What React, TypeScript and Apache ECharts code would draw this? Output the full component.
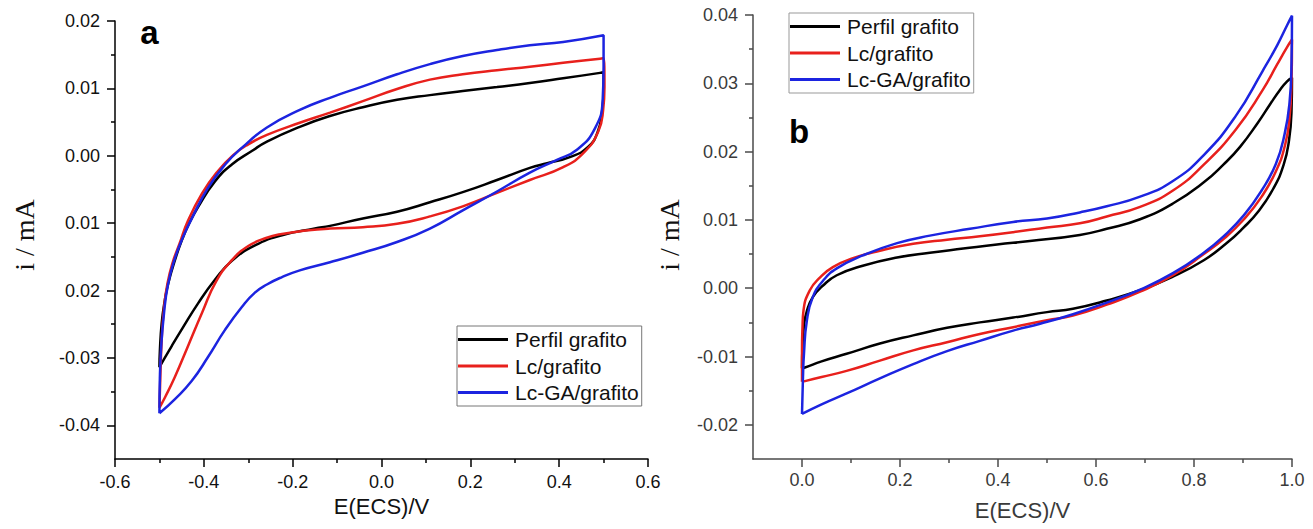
import React, { useEffect, useRef } from "react";
import * as echarts from "echarts";

type Pt = [number, number];

const seriesNames = ["Perfil grafito", "Lc/grafito", "Lc-GA/grafito"];
const seriesColors = ["#000000", "#e8201c", "#1c24e0"];

// Panel a: cyclic voltammograms, -0.5 V to 0.5 V (forward branch, then reverse)
const aPerfil: Pt[] = [
  [-0.5, -0.0314], [-0.499, -0.029], [-0.495, -0.0249], [-0.488, -0.0215], [-0.48, -0.0189],
  [-0.465, -0.0155], [-0.45, -0.0126], [-0.432, -0.0099], [-0.413, -0.0076], [-0.375, -0.0038],
  [-0.337, -0.0013], [-0.292, 0.0007], [-0.258, 0.0021], [-0.184, 0.0043], [-0.116, 0.0059],
  [-0.042, 0.0072], [0.035, 0.0083], [0.109, 0.009], [0.183, 0.0096], [0.26, 0.0102],
  [0.334, 0.0108], [0.409, 0.0115], [0.492, 0.0123], [0.5, 0.0124],
  [0.5, 0.01], [0.497, 0.0068], [0.487, 0.0036], [0.465, 0.0013], [0.424, -0.0002],
  [0.373, -0.0011], [0.334, -0.0018], [0.26, -0.0036], [0.183, -0.0054], [0.109, -0.0069],
  [0.035, -0.0083], [-0.042, -0.0093], [-0.116, -0.0104], [-0.15, -0.0108], [-0.224, -0.0118],
  [-0.285, -0.0133], [-0.337, -0.0156], [-0.375, -0.0184], [-0.413, -0.0219], [-0.449, -0.0257],
  [-0.472, -0.0282], [-0.488, -0.0300], [-0.5, -0.0314],
];

const aLc: Pt[] = [
  [-0.5, -0.0374], [-0.498, -0.033], [-0.495, -0.0275], [-0.49, -0.0228], [-0.482, -0.019],
  [-0.47, -0.0158], [-0.455, -0.0131], [-0.436, -0.0097], [-0.404, -0.0056], [-0.37, -0.0024],
  [-0.334, 0.0001], [-0.3, 0.0017], [-0.258, 0.0031], [-0.184, 0.0049], [-0.116, 0.0064],
  [-0.042, 0.0081], [0.035, 0.0099], [0.109, 0.0113], [0.183, 0.0121], [0.26, 0.0127],
  [0.334, 0.0132], [0.409, 0.0138], [0.492, 0.0144], [0.5, 0.0145],
  [0.502, 0.0102], [0.499, 0.0068], [0.488, 0.0036], [0.456, 0.0005], [0.409, -0.0017],
  [0.334, -0.0036], [0.26, -0.0055], [0.183, -0.0075], [0.109, -0.009], [0.035, -0.0101],
  [-0.042, -0.0106], [-0.116, -0.0108], [-0.17, -0.0111], [-0.224, -0.0116], [-0.26, -0.0122],
  [-0.3, -0.0134], [-0.337, -0.0155], [-0.372, -0.0186], [-0.404, -0.0233], [-0.436, -0.0283],
  [-0.465, -0.0328], [-0.487, -0.0358], [-0.5, -0.0374],
];

const aLcGA: Pt[] = [
  [-0.5, -0.0382], [-0.499, -0.033], [-0.496, -0.0283], [-0.49, -0.0236], [-0.481, -0.0192],
  [-0.465, -0.0152], [-0.447, -0.0121], [-0.427, -0.0093], [-0.391, -0.0048], [-0.352, -0.0013],
  [-0.314, 0.0012], [-0.258, 0.0042], [-0.184, 0.0068], [-0.116, 0.0086], [-0.042, 0.0103],
  [0.035, 0.0121], [0.109, 0.0136], [0.183, 0.0148], [0.26, 0.0157], [0.334, 0.0164],
  [0.409, 0.0169], [0.5, 0.0179],
  [0.5, 0.0132], [0.498, 0.0083], [0.48, 0.004], [0.44, 0.0009], [0.395, -0.0006],
  [0.334, -0.0025], [0.26, -0.0053], [0.183, -0.0081], [0.109, -0.0108], [0.035, -0.0128],
  [-0.042, -0.0144], [-0.116, -0.0158], [-0.184, -0.0170], [-0.224, -0.0180], [-0.258, -0.0191],
  [-0.285, -0.0203], [-0.314, -0.0224], [-0.352, -0.0258], [-0.391, -0.0299], [-0.427, -0.0334],
  [-0.465, -0.0361], [-0.5, -0.0382],
];

// Panel b: cyclic voltammograms, 0 V to 1.0 V
const bPerfil: Pt[] = [
  [0, -0.0117], [0.001, -0.0085], [0.004, -0.0055], [0.01, -0.0033], [0.022, -0.0013],
  [0.043, 0.0004], [0.071, 0.0019], [0.124, 0.0033], [0.194, 0.0045], [0.261, 0.0052],
  [0.329, 0.0058], [0.398, 0.0064], [0.465, 0.0069], [0.567, 0.0078], [0.622, 0.0087],
  [0.69, 0.0101], [0.757, 0.0124], [0.82, 0.0155], [0.86, 0.0181], [0.894, 0.0207],
  [0.93, 0.0242], [0.955, 0.0269], [0.975, 0.029], [0.99, 0.0303], [1.0, 0.0308],
  [0.999, 0.026], [0.994, 0.0217], [0.983, 0.0181], [0.962, 0.0146], [0.932, 0.0113],
  [0.9, 0.0088], [0.865, 0.0065], [0.82, 0.0041], [0.757, 0.0017], [0.69, -0.0003],
  [0.622, -0.0018], [0.553, -0.003], [0.5, -0.0035], [0.431, -0.0043], [0.363, -0.005],
  [0.296, -0.0058], [0.227, -0.0069], [0.159, -0.0081], [0.091, -0.0096], [0.04, -0.0107],
  [0.006, -0.0116], [0, -0.0117],
];

const bLc: Pt[] = [
  [0, -0.0137], [0, -0.009], [0.001, -0.0057], [0.003, -0.0033], [0.016, -0.0003],
  [0.037, 0.0016], [0.063, 0.0031], [0.104, 0.0044], [0.159, 0.0055], [0.227, 0.0065],
  [0.296, 0.0071], [0.363, 0.0076], [0.431, 0.0082], [0.5, 0.0089], [0.567, 0.0095],
  [0.622, 0.0105], [0.69, 0.0119], [0.757, 0.0143], [0.82, 0.0181], [0.885, 0.0232],
  [0.94, 0.029], [0.97, 0.0328], [0.99, 0.0353], [1.0, 0.0364],
  [0.999, 0.03], [0.995, 0.025], [0.986, 0.021], [0.967, 0.0171], [0.937, 0.0133],
  [0.902, 0.0101], [0.862, 0.0073], [0.82, 0.005], [0.757, 0.0019], [0.69, -0.0005],
  [0.622, -0.0024], [0.553, -0.004], [0.5, -0.0047], [0.431, -0.0057], [0.363, -0.0067],
  [0.296, -0.0079], [0.227, -0.0091], [0.159, -0.0106], [0.091, -0.0121], [0.04, -0.013],
  [0.006, -0.0136], [0, -0.0137],
];

const bLcGA: Pt[] = [
  [0, -0.0184], [0.002, -0.013], [0.004, -0.0096], [0.01, -0.0047], [0.022, -0.0013],
  [0.043, 0.0011], [0.071, 0.0029], [0.124, 0.0048], [0.194, 0.0066], [0.261, 0.0077],
  [0.343, 0.0087], [0.431, 0.0097], [0.5, 0.0102], [0.567, 0.0111], [0.622, 0.012],
  [0.69, 0.0134], [0.757, 0.0157], [0.82, 0.0195], [0.885, 0.0252], [0.94, 0.0318],
  [0.97, 0.0356], [0.99, 0.0385], [1.0, 0.0399],
  [0.999, 0.033], [0.995, 0.0272], [0.985, 0.0226], [0.967, 0.0182], [0.937, 0.0142],
  [0.902, 0.0107], [0.862, 0.0077], [0.82, 0.0052], [0.757, 0.0022], [0.69, -0.0002],
  [0.622, -0.0021], [0.553, -0.0038], [0.486, -0.0052], [0.431, -0.0062], [0.363, -0.0077],
  [0.296, -0.0092], [0.227, -0.0111], [0.159, -0.0132], [0.091, -0.0154], [0.04, -0.017],
  [0, -0.0184],
];

// Tick positions and their printed labels
const aXTicks = [-0.6, -0.4, -0.2, 0, 0.2, 0.4, 0.6];
const aXLabels = ["-0.6", "-0.4", "-0.2", "0.0", "0.2", "0.4", "0.6"];
const aXMinor = [-0.5, -0.3, -0.1, 0.1, 0.3, 0.5];
const aYTicks = [-0.04, -0.03, -0.02, -0.01, 0, 0.01, 0.02];
const aYLabels = ["-0.04", "-0.03", "0.02", "0.01", "0.00", "0.01", "0.02"];
const aYMinor = [-0.035, -0.025, -0.015, -0.005, 0.005, 0.015];

const bXTicks = [0, 0.2, 0.4, 0.6, 0.8, 1.0];
const bXLabels = ["0.0", "0.2", "0.4", "0.6", "0.8", "1.0"];
const bXMinor = [0.1, 0.3, 0.5, 0.7, 0.9];
const bYTicks = [-0.02, -0.01, 0, 0.01, 0.02, 0.03, 0.04];
const bYLabels = ["-0.02", "-0.01", "0.00", "0.01", "0.02", "0.03", "0.04"];
const bYMinor = [-0.015, -0.005, 0.005, 0.015, 0.025, 0.035];

const SANS = '"Liberation Sans", Arial, Helvetica, sans-serif';
const SERIF = '"Liberation Serif", "Times New Roman", serif';

function labelFor(ticks: number[], labels: string[]) {
  return (v: number) => {
    let best = 0;
    for (let k = 1; k < ticks.length; k++) {
      if (Math.abs(ticks[k] - v) < Math.abs(ticks[best] - v)) best = k;
    }
    return labels[best];
  };
}

function majorAxis(p: {
  grid: number; min: number; max: number; ticks: number[]; labels: string[];
  color: string; labelColor: string; margin: number; name?: string; nameGap?: number;
}) {
  return {
    type: "value",
    gridIndex: p.grid,
    min: p.min,
    max: p.max,
    name: p.name,
    nameLocation: "middle",
    nameGap: p.nameGap,
    nameTextStyle: { fontSize: 22, color: p.labelColor, fontFamily: SANS },
    axisLine: { show: true, onZero: false, lineStyle: { color: p.color, width: 1.5 } },
    axisTick: { show: true, customValues: p.ticks, length: 8, lineStyle: { color: p.color, width: 1.5 } },
    axisLabel: {
      customValues: p.ticks,
      formatter: labelFor(p.ticks, p.labels),
      fontSize: 18,
      color: p.labelColor,
      fontFamily: SANS,
      margin: p.margin,
    },
    splitLine: { show: false },
  };
}

function minorAxis(grid: number, min: number, max: number, ticks: number[], color: string, position: string) {
  return {
    type: "value",
    gridIndex: grid,
    position,
    min,
    max,
    axisLine: { show: false, onZero: false },
    axisTick: { show: true, customValues: ticks, length: 4, lineStyle: { color, width: 1.5 } },
    axisLabel: { show: false },
    splitLine: { show: false },
  };
}

function legendAt(left: number, top: number, border: string) {
  return {
    left,
    top,
    orient: "vertical",
    data: seriesNames,
    icon: "rect",
    itemWidth: 50,
    itemHeight: 3,
    itemGap: 5.5,
    padding: [3, 3, 3, 1],
    borderColor: border,
    borderWidth: 1,
    selectedMode: false,
    itemStyle: { borderWidth: 0 },
    textStyle: { fontSize: 21, color: "#111", fontFamily: SANS, padding: [0, 0, 0, 2] },
  };
}

function curve(name: string, color: string, data: Pt[], axis: number) {
  return {
    type: "line",
    name,
    xAxisIndex: axis,
    yAxisIndex: axis,
    data,
    showSymbol: false,
    symbol: "none",
    smooth: 0.5,
    smoothMonotone: "none",
    color,
    itemStyle: { color },
    lineStyle: { color, width: 2.5 },
  };
}

export default function App() {
  const ref = useRef<HTMLDivElement>(null);

  useEffect(() => {
    if (!ref.current) return;
    const chart = echarts.init(ref.current, null, { renderer: "svg" });

    const aAxisColor = "#000";
    const bAxisColor = "#4a4a4a";

    chart.setOption({
      animation: false,
      backgroundColor: "#ffffff",
      grid: [
        { left: 115, top: 21, width: 533, height: 438 },
        { left: 753, top: 15, width: 539, height: 444 },
      ],
      xAxis: [
        majorAxis({ grid: 0, min: -0.6, max: 0.6, ticks: aXTicks, labels: aXLabels, color: aAxisColor, labelColor: "#111", margin: 14, name: "E(ECS)/V", nameGap: 35 }),
        majorAxis({ grid: 1, min: -0.1, max: 1.0, ticks: bXTicks, labels: bXLabels, color: bAxisColor, labelColor: "#3a3a3a", margin: 12, name: "E(ECS)/V", nameGap: 40 }),
        minorAxis(0, -0.6, 0.6, aXMinor, aAxisColor, "bottom"),
        minorAxis(1, -0.1, 1.0, bXMinor, bAxisColor, "bottom"),
      ],
      yAxis: [
        majorAxis({ grid: 0, min: -0.045, max: 0.02, ticks: aYTicks, labels: aYLabels, color: aAxisColor, labelColor: "#111", margin: 15 }),
        majorAxis({ grid: 1, min: -0.025, max: 0.04, ticks: bYTicks, labels: bYLabels, color: bAxisColor, labelColor: "#3a3a3a", margin: 15 }),
        minorAxis(0, -0.045, 0.02, aYMinor, aAxisColor, "left"),
        minorAxis(1, -0.025, 0.04, bYMinor, bAxisColor, "left"),
      ],
      legend: [legendAt(457, 326, "#777"), legendAt(789, 13, "#999")],
      graphic: [
        {
          type: "text", x: 149.5, y: 32,
          style: { text: "a", fontSize: 33, fontWeight: "bold", fontFamily: SANS, fill: "#000", align: "center", verticalAlign: "middle", textAlign: "center", textVerticalAlign: "middle" },
        },
        {
          type: "text", x: 799, y: 131,
          style: { text: "b", fontSize: 33, fontWeight: "bold", fontFamily: SANS, fill: "#000", align: "center", verticalAlign: "middle", textAlign: "center", textVerticalAlign: "middle" },
        },
        {
          type: "text", x: 24, y: 235, rotation: Math.PI / 2,
          style: { text: "i / mA", fontSize: 28, fontFamily: SERIF, fill: "#111", align: "center", verticalAlign: "middle", textAlign: "center", textVerticalAlign: "middle" },
        },
        {
          type: "text", x: 669, y: 235, rotation: Math.PI / 2,
          style: { text: "i / mA", fontSize: 28, fontFamily: SERIF, fill: "#111", align: "center", verticalAlign: "middle", textAlign: "center", textVerticalAlign: "middle" },
        },
      ],
      series: [
        curve(seriesNames[0], seriesColors[0], aPerfil, 0),
        curve(seriesNames[1], seriesColors[1], aLc, 0),
        curve(seriesNames[2], seriesColors[2], aLcGA, 0),
        curve(seriesNames[0], seriesColors[0], bPerfil, 1),
        curve(seriesNames[1], seriesColors[1], bLc, 1),
        curve(seriesNames[2], seriesColors[2], bLcGA, 1),
      ],
    });

    return () => chart.dispose();
  }, []);

  return (
    <div
      ref={ref}
      style={{ position: "absolute", left: 0, top: 0, width: 1313, height: 529 }}
    />
  );
}
